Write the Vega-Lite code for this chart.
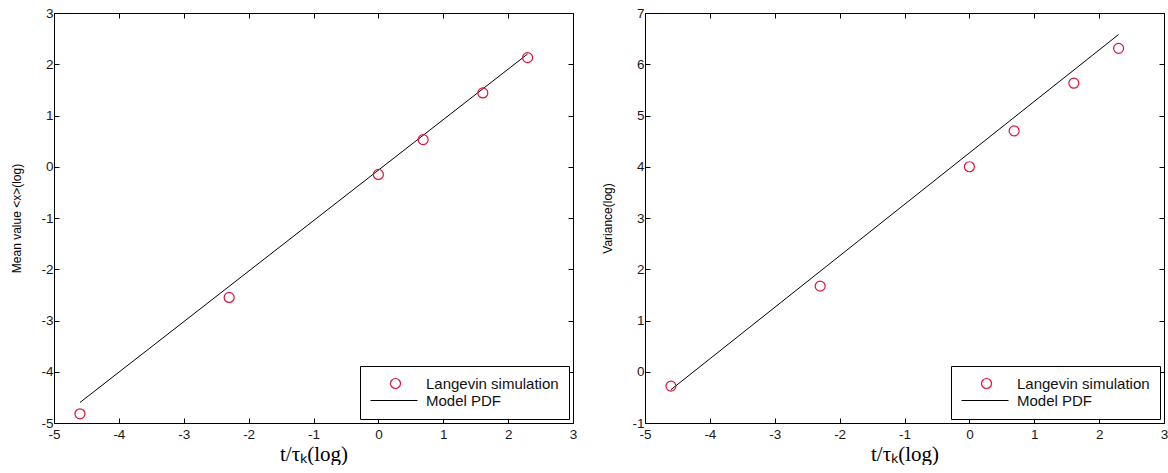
{
  "$schema": "https://vega.github.io/schema/vega-lite/v6.json",
  "background": "white",
  "padding": {"left": 10, "top": 5, "right": 2, "bottom": 0},
  "spacing": 23,
  "config": {
    "view": {"stroke": "black", "strokeWidth": 1},
    "font": "Liberation Sans",
    "axis": {
      "grid": false,
      "domain": false,
      "tickSize": -5,
      "tickColor": "black",
      "tickWidth": 1,
      "labelFont": "Liberation Sans",
      "labelFontSize": 13.5,
      "labelColor": "#1a1a1a",
      "labelOverlap": false,
      "labelFlush": false,
      "labelExpr": "'' + datum.value",
      "titleFontWeight": "normal",
      "titleColor": "black"
    },
    "axisX": {"titleFont": "Liberation Serif", "titleFontSize": 21, "titlePadding": 3, "labelPadding": 9},
    "axisY": {"titleFont": "Liberation Sans", "titleFontSize": 12, "titlePadding": 17, "labelPadding": 6},
    "legend": {
      "orient": "bottom-right",
      "offset": 4,
      "strokeColor": "black",
      "fillColor": "white",
      "padding": 10,
      "title": null,
      "labelFont": "Liberation Sans",
      "labelFontSize": 15,
      "labelColor": "#111",
      "labelOffset": 41,
      "rowPadding": 1,
      "symbolSize": 100,
      "symbolOpacity": 1,
      "symbolStrokeWidth": 1.2
    }
  },
  "datasets": {
    "leftPts": [
      {"t": -4.6, "v": -4.82, "series": "Langevin simulation"},
      {"t": -2.3, "v": -2.55, "series": "Langevin simulation"},
      {"t": 0.0, "v": -0.15, "series": "Langevin simulation"},
      {"t": 0.69, "v": 0.53, "series": "Langevin simulation"},
      {"t": 1.61, "v": 1.44, "series": "Langevin simulation"},
      {"t": 2.3, "v": 2.13, "series": "Langevin simulation"}
    ],
    "leftLine": [
      {"t": -4.6, "v": -4.6},
      {"t": 2.3, "v": 2.2}
    ],
    "rightPts": [
      {"t": -4.6, "v": -0.28, "series": "Langevin simulation"},
      {"t": -2.3, "v": 1.67, "series": "Langevin simulation"},
      {"t": 0.0, "v": 4.0, "series": "Langevin simulation"},
      {"t": 0.69, "v": 4.7, "series": "Langevin simulation"},
      {"t": 1.61, "v": 5.63, "series": "Langevin simulation"},
      {"t": 2.3, "v": 6.31, "series": "Langevin simulation"}
    ],
    "rightLine": [
      {"t": -4.6, "v": -0.35},
      {"t": 2.3, "v": 6.58}
    ]
  },
  "hconcat": [
    {
      "width": 519,
      "height": 410,
      "layer": [
        {
          "data": {"name": "leftLine"},
          "mark": {"type": "line", "color": "black", "strokeWidth": 1},
          "encoding": {
            "x": {"field": "t", "type": "quantitative", "scale": {"domain": [-5, 3], "nice": false}, "axis": {"orient": "bottom", "title": "t/τₖ(log)", "values": [-5, -4, -3, -2, -1, 0, 1, 2, 3]}},
            "y": {"field": "v", "type": "quantitative", "scale": {"domain": [-5, 3], "nice": false, "zero": false}, "axis": {"orient": "left", "title": "Mean value <x>(log)", "values": [-5, -4, -3, -2, -1, 0, 1, 2, 3]}}
          }
        },
        {
          "data": {"name": "leftPts"},
          "mark": {"type": "point", "filled": false, "strokeWidth": 1.2, "size": 100, "opacity": 1, "color": "#e0103a"},
          "encoding": {
            "x": {"field": "t", "type": "quantitative", "axis": null},
            "y": {"field": "v", "type": "quantitative", "axis": null}
          }
        },
        {
          "data": {"name": "leftPts"},
          "mark": {"type": "point", "filled": false, "opacity": 0, "size": 100},
          "encoding": {
            "x": {"field": "t", "type": "quantitative", "axis": null},
            "y": {"field": "v", "type": "quantitative", "axis": null},
            "color": {"field": "series", "type": "nominal", "scale": {"domain": ["Langevin simulation", "Model PDF"], "range": ["#e0103a", "black"]}},
            "shape": {"field": "series", "type": "nominal", "scale": {"domain": ["Langevin simulation", "Model PDF"], "range": ["M4.6,0A1,1,0,1,1,2.6,0A1,1,0,1,1,4.6,0Z", "M-1.4,0H8"]}}
          }
        },
        {
          "data": {"name": "leftLine"},
          "mark": {"type": "point", "opacity": 0},
          "encoding": {
            "x": {"field": "t", "type": "quantitative", "axis": {"orient": "top", "title": null, "labels": false, "values": [-5, -4, -3, -2, -1, 0, 1, 2, 3]}},
            "y": {"field": "v", "type": "quantitative", "axis": {"orient": "right", "title": null, "labels": false, "values": [-5, -4, -3, -2, -1, 0, 1, 2, 3]}}
          }
        }
      ],
      "resolve": {"axis": {"x": "independent", "y": "independent"}}
    },
    {
      "width": 519,
      "height": 410,
      "layer": [
        {
          "data": {"name": "rightLine"},
          "mark": {"type": "line", "color": "black", "strokeWidth": 1},
          "encoding": {
            "x": {"field": "t", "type": "quantitative", "scale": {"domain": [-5, 3], "nice": false}, "axis": {"orient": "bottom", "title": "t/τₖ(log)", "values": [-5, -4, -3, -2, -1, 0, 1, 2, 3]}},
            "y": {"field": "v", "type": "quantitative", "scale": {"domain": [-1, 7], "nice": false, "zero": false}, "axis": {"orient": "left", "title": "Variance(log)", "values": [-1, 0, 1, 2, 3, 4, 5, 6, 7]}}
          }
        },
        {
          "data": {"name": "rightPts"},
          "mark": {"type": "point", "filled": false, "strokeWidth": 1.2, "size": 100, "opacity": 1, "color": "#e0103a"},
          "encoding": {
            "x": {"field": "t", "type": "quantitative", "axis": null},
            "y": {"field": "v", "type": "quantitative", "axis": null}
          }
        },
        {
          "data": {"name": "rightPts"},
          "mark": {"type": "point", "filled": false, "opacity": 0, "size": 100},
          "encoding": {
            "x": {"field": "t", "type": "quantitative", "axis": null},
            "y": {"field": "v", "type": "quantitative", "axis": null},
            "color": {"field": "series", "type": "nominal", "scale": {"domain": ["Langevin simulation", "Model PDF"], "range": ["#e0103a", "black"]}},
            "shape": {"field": "series", "type": "nominal", "scale": {"domain": ["Langevin simulation", "Model PDF"], "range": ["M4.6,0A1,1,0,1,1,2.6,0A1,1,0,1,1,4.6,0Z", "M-1.4,0H8"]}}
          }
        },
        {
          "data": {"name": "rightLine"},
          "mark": {"type": "point", "opacity": 0},
          "encoding": {
            "x": {"field": "t", "type": "quantitative", "axis": {"orient": "top", "title": null, "labels": false, "values": [-5, -4, -3, -2, -1, 0, 1, 2, 3]}},
            "y": {"field": "v", "type": "quantitative", "axis": {"orient": "right", "title": null, "labels": false, "values": [-1, 0, 1, 2, 3, 4, 5, 6, 7]}}
          }
        }
      ],
      "resolve": {"axis": {"x": "independent", "y": "independent"}}
    }
  ],
  "resolve": {"scale": {"color": "independent", "shape": "independent"}, "legend": {"color": "independent", "shape": "independent"}}
}
